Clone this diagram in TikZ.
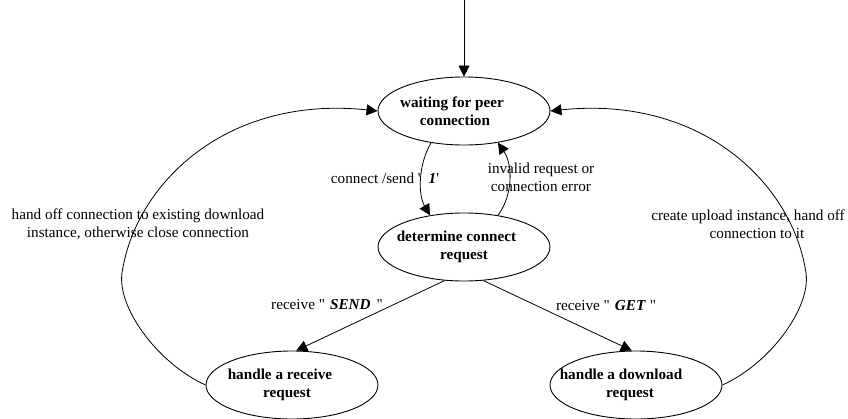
\documentclass[tikz,border=0pt]{standalone}
\usepackage{fontspec}
\newfontfamily\gv{Liberation Serif}
\usetikzlibrary{shapes.geometric,arrows.meta}
% invisible horizontal strut used to nudge a centred line sideways
\newcommand\rpad[1]{\rule{#1}{0pt}}
\begin{document}
\begin{tikzpicture}[x=1pt,y=-1pt,
  stnode/.style={ellipse,draw,line width=0.9pt,minimum width=172pt,minimum height=68pt,
    inner xsep=-20pt,inner ysep=0pt,align=center,font=\gv\fontsize{15.2}{18}\selectfont\bfseries},
  lbl/.style={align=center,inner sep=0pt,font=\gv\fontsize{15.2}{18}\selectfont},
  conn/.style={draw,line width=0.8pt,-{Triangle[length=11pt,width=11pt]}}]
\useasboundingbox (0,0) rectangle (848,418);

% states
\node[stnode] (wait) at (464,111) {waiting for peer\rpad{24pt}\\connection\rpad{18pt}};
\node[stnode] (det)  at (464,247) {determine connect\rpad{15pt}\\request};
\node[stnode] (recv) at (292,385) {handle a receive\rpad{24pt}\\request\rpad{10pt}};
\node[stnode] (dl)   at (636,385) {handle a download\rpad{30pt}\\request\rpad{12pt}};

% entry arrow
\coordinate (entry) at (464,0);
\draw[conn] (entry) -- (wait.north);

% between the two upper states
\draw[conn] (wait.224) .. controls (418,165) and (418,195) .. (det.137);
\draw[conn] (det.43) .. controls (513,195) and (513,165) .. (wait.317);

% dispatch on the request
\draw[conn] (det.240) -- (recv.83);
\draw[conn] (det.300) -- (dl.97);

% return loops
\draw[conn] (recv.west) .. controls (157,363) and (117,307) .. (122,273)
            .. controls (135,185) and (225,95) .. (wait.west);
\draw[conn] (dl.east) .. controls (771,363) and (811,307) .. (806,273)
            .. controls (793,185) and (703,95) .. (wait.east);

% edge labels
\node[lbl] (l1) at (385,178) {connect /send '\hspace{8pt}\textbf{\textit{1}}'};
\node[lbl] (l2) at (541,177) {invalid request or\\connection error};
\node[lbl] (l3) at (327,305) {receive "\hspace{5pt}\textbf{\textit{SEND}}\hspace{6pt}"};
\node[lbl] (l4) at (606,306) {receive "\hspace{5pt}\textbf{\textit{GET}}\hspace{4pt}"};
\node[lbl] (l5) at (138,224) {hand off connection to existing download\\instance, otherwise close connection};
\node[lbl] (l6) at (748,224) {create upload instance, hand off\\\rpad{18pt}connection to it};
\end{tikzpicture}
\end{document}
